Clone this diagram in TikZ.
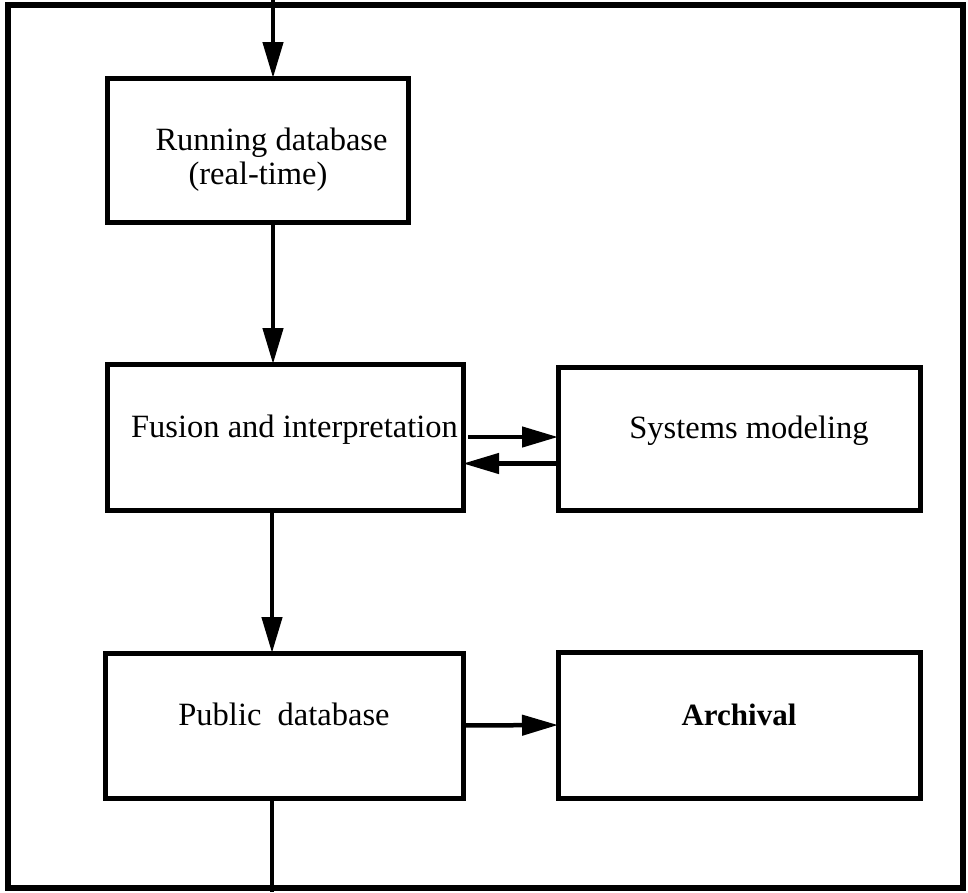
\documentclass[tikz,border=0pt]{standalone}
\usepackage{fontspec}
\setmainfont{Liberation Serif}
\usetikzlibrary{arrows.meta}
\begin{document}
\begin{tikzpicture}[x=1pt,y=-1pt,
  box/.style={draw,line width=5pt,rectangle,outer sep=0pt,inner sep=0pt,
    text height=0pt,text depth=0pt,
    font=\fontsize{32.5}{33}\selectfont,align=center},
  arr/.style={line width=4.5pt,-{Triangle[length=36pt,width=20pt]}},
  frame/.style={line width=6.5pt}]
\useasboundingbox (0,0) rectangle (968,892);
% outer frame
\draw[frame] (8,5) rectangle (963,888);
% process boxes (first text baseline sits on the box centre)
\node[box,minimum width=301pt,minimum height=144pt] (run) at (257.5,150)
  {\hspace*{28pt}\begin{tabular}[t]{@{}l@{}}Running database\\[1pt]\hspace*{33pt}(real-time)\end{tabular}};
\node[box,minimum width=356pt,minimum height=146pt] (fus) at (285,437)
  {\hspace*{19pt}Fusion and interpretation};
\node[box,minimum width=362pt,minimum height=143pt] (sys) at (739,438.5)
  {\hspace*{20pt}Systems modeling};
\node[box,minimum width=358pt,minimum height=145pt] (pub) at (284,725.5)
  {Public\ \ database};
\node[box,minimum width=362pt,minimum height=146pt] (arc) at (739,725)
  {\fontsize{31}{33}\selectfont\bfseries Archival};
% free ends of the incoming and outgoing lines
\coordinate (in) at (273,0);
\coordinate (out) at (272,892);
% connectors
\draw[arr] (in) -- (run.north -| in);
\draw[arr] (run.south -| in) -- (fus.north -| in);
\draw[arr] ([xshift=5pt]fus.east) -- (sys.west |- fus.east);
\draw[arr] ([yshift=-25pt]sys.west) -- ([yshift=-25pt]sys.west -| fus.east);
\draw[arr] (fus.south -| out) -- (pub.north -| out);
\draw[arr] (pub.east) -- (arc.west);
\draw[line width=3.5pt] (pub.south -| out) -- (out);
\end{tikzpicture}
\end{document}
